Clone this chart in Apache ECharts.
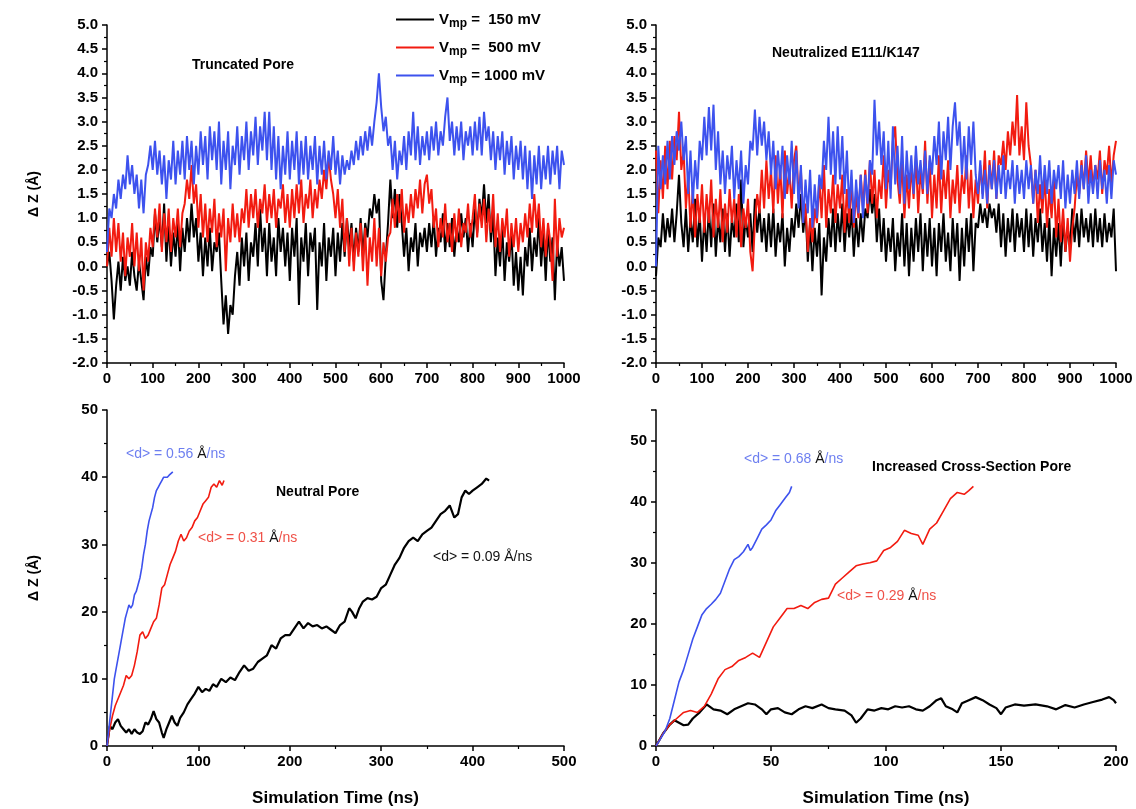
<!DOCTYPE html>
<html>
<head>
<meta charset="utf-8">
<script src="https://cdn.jsdelivr.net/npm/echarts@6/dist/echarts.min.js"></script>
<style>
  html, body { margin: 0; padding: 0; background: #fff; }
  #chart { width: 1136px; height: 809px; }
</style>
</head>
<body>
<div id="chart"></div>
<script>
// series names (legend)
var names = ["Vmp =  150 mV", "Vmp =  500 mV", "Vmp = 1000 mV"];
var colors = ["#000000", "#f21b10", "#3d52ee"];

// top panels: dZ sampled every 5 ns, 0..1000 ns
var truncBlack = [
  0.0, 0.3, -0.3, -1.1, -0.4, 0.1, -0.5, 0.2, -0.3, 0.0,
  -0.4, 0.3, -0.2, -0.5, 0.1, -0.3, -0.7, 0.2, -0.2, 0.4,
  0.2, 1.1, 0.5, 1.0, 0.4, 1.3, 0.1, 0.9, 0.0, 0.7,
  0.2, 0.9, -0.1, 0.8, 0.3, 1.0, 0.5, 1.3, 0.6, 1.0,
  0.1, 0.7, -0.2, 0.6, 0.0, 0.8, -0.1, 0.5, 0.3, 0.7,
  -0.3, -1.2, -0.6, -1.4, -0.8, -1.0, -0.2, 0.3, -0.4, 0.6,
  0.0, 0.7, -0.3, 0.5, 0.2, 0.9, 0.0, 1.2, 0.3, 0.8,
  -0.2, 0.9, 0.1, 0.6, -0.2, 1.0, 0.3, 0.8, 0.0, 0.7,
  -0.3, 0.8, 0.2, 1.0, -0.8, 0.6, 0.1, 0.9, -0.2, 0.7,
  0.3, 0.8, -0.9, 0.5, 0.0, 0.9, -0.3, 0.6, 0.2, 0.8,
  -0.2, 0.7, 0.1, 0.9, 0.2, 1.0, 0.4, 0.9, 0.1, 0.8,
  0.3, 1.0, 0.2, 0.9, 0.6, 1.2, 1.0, 1.5, 1.1, 1.4,
  -0.3, -0.7, 0.2, 0.9, 1.8, 1.0, 1.6, 0.8, 1.5, 0.9,
  0.2, 0.8, -0.1, 0.6, 0.3, 0.9, 0.0, 0.7, 0.4, 0.8,
  0.3, 0.9, 0.4, 1.0, 0.2, 0.8, 0.5, 1.1, 0.3, 0.9,
  0.4, 1.0, 0.2, 0.8, 0.5, 1.1, 0.6, 1.0, 0.3, 0.9,
  0.4, 1.2, 0.7, 1.4, 1.0, 1.7, 0.9, 1.5, 0.5, 1.1,
  -0.2, 0.6, 0.0, 0.8, -0.3, 0.5, 0.1, 0.7, -0.4, 0.3,
  -0.5, 0.2, -0.6, 0.4, 0.0, 0.8, -0.1, 0.6, 0.2, 1.0,
  0.0, 0.7, -0.3, 0.8, 0.1, 0.6, -0.7, 0.5, 0.0, 0.4,
  -0.3
];
var truncRed = [
  0.0, 0.8, 0.2, 1.0, 0.3, 0.9, 0.1, 0.7, -0.2, 0.6,
  0.2, 0.9, 0.0, 0.7, -0.1, 0.6, -0.5, 0.5, 0.1, 0.8,
  0.4, 1.2, 0.6, 1.3, 0.3, 1.1, 0.5, 1.2, 0.3, 1.0,
  0.6, 1.2, 0.4, 1.1, 1.3, 1.8, 1.4, 2.1, 1.3, 1.7,
  0.8, 1.5, 0.6, 1.3, 0.5, 1.2, 0.7, 1.4, 0.4, 1.1,
  0.6, 1.2, -0.1, 1.0, 0.5, 1.3, 0.6, 1.1, 0.5, 1.2,
  0.9, 1.6, 0.8, 1.5, 1.0, 1.6, 0.8, 1.4, 1.1, 1.7,
  0.9, 1.5, 1.0, 1.6, 0.8, 1.4, 1.2, 1.7, 0.9, 1.5,
  0.8, 1.6, 1.0, 1.7, 1.1, 1.8, 0.9, 1.5, 1.2, 1.8,
  1.0, 1.6, 1.2, 1.8, 1.4, 2.0, 1.6, 2.3, 1.8, 1.5,
  1.0, 1.6, 0.8, 1.4, 0.3, 1.0, 0.0, 0.8, -0.1, 0.7,
  0.2, 0.9, -0.1, 0.8, -0.4, 0.6, 0.1, 1.0, 0.0, 0.8,
  -0.2, 0.5, 0.1, 0.6, 0.7, 1.4, 0.8, 1.5, 0.9, 1.6,
  0.7, 1.3, 0.9, 1.5, 1.0, 1.6, 1.2, 1.8, 1.1, 1.7,
  1.9, 1.3, 1.6, 0.8, 1.2, 0.4, 1.0, 0.6, 1.3, 0.5,
  0.9, 0.3, 1.1, 0.5, 1.2, 0.4, 0.9, 0.7, 1.3, 0.6,
  1.0, 1.5, 0.6, 1.3, 0.8, 1.4, 0.5, 1.2, 0.7, 1.5,
  0.4, 1.1, 0.3, 1.0, 0.6, 1.2, 0.2, 0.9, 0.4, 1.0,
  0.3, 0.9, 0.5, 1.1, 0.6, 1.3, 0.7, 1.5, 0.8, 1.3,
  0.4, 1.0, 0.2, 0.9, 0.5, -0.3, 1.4, 0.2, 1.0, 0.6,
  0.8
];
var truncBlue = [
  0.3, 1.2, 1.0, 1.5, 1.2, 1.8, 1.4, 1.9, 1.6, 2.3,
  1.7, 2.1, 1.5, 1.9, 1.2, 1.8, 1.1, 1.9, 2.1, 2.5,
  2.0, 2.6, 1.9, 2.4, 1.7, 2.3, 1.4, 2.2, 1.8, 2.6,
  1.7, 2.4, 1.9, 2.6, 1.8, 2.7, 2.0, 2.6, 1.7, 2.5,
  1.9, 2.8, 2.1, 2.7, 1.8, 2.9, 2.2, 2.8, 2.0, 3.0,
  1.7, 2.6, 2.0, 2.8, 1.6, 2.5, 2.1, 2.9, 1.9, 2.7,
  2.2, 3.0, 2.0, 2.8, 2.3, 3.1, 2.1, 2.9, 2.4, 3.2,
  2.2, 3.2, 2.0, 2.9, 1.8, 2.7, 1.6, 2.5, 1.9, 2.8,
  1.8, 2.6, 2.0, 2.8, 1.7, 2.6, 1.9, 2.7, 1.8, 2.5,
  2.0, 2.7, 1.7, 2.5, 1.9, 2.6, 1.8, 2.4, 2.0, 2.7,
  1.9, 2.4, 1.7, 2.3, 1.9, 2.2, 2.0, 2.4, 2.1, 2.6,
  2.2, 2.7, 2.3, 2.8, 2.4, 2.9, 2.5, 3.0, 3.4, 4.0,
  3.3, 2.8, 3.1, 2.5, 2.7, 2.0, 2.6, 1.8, 2.4, 2.1,
  2.7, 2.0, 2.8, 2.3, 3.2, 2.2, 2.9, 2.1, 2.7, 2.3,
  2.8, 2.2, 2.9, 2.4, 3.0, 2.3, 2.8, 2.5, 3.1, 3.5,
  2.6, 3.0, 2.3, 2.9, 2.4, 3.0, 2.2, 2.8, 2.5, 2.9,
  2.3, 3.0, 2.4, 3.1, 2.3, 3.2, 2.6, 2.9, 2.2, 2.8,
  2.0, 2.7, 2.2, 2.8, 1.9, 2.6, 2.1, 2.7, 1.8, 2.5,
  2.0, 2.6, 1.8, 2.5, 1.6, 2.4, 1.4, 2.3, 1.7, 2.5,
  1.6, 2.3, 1.8, 2.5, 1.7, 2.4, 1.9, 2.5, 1.6, 2.4,
  2.1
];
var neutBlack = [
  -0.2, 0.6, 0.4, 1.1, 0.5, 1.0, 0.6, 1.2, 0.5, 1.1,
  1.9, 0.9, 0.4, 1.2, 0.3, 1.0, 0.5, 1.4, 0.4, 1.1,
  0.1, 1.0, 0.3, 1.2, 0.4, 1.3, 0.2, 1.0, 0.5, 1.2,
  0.3, 1.1, 0.2, 1.0, 0.6, 1.3, 0.5, 1.8, 0.4, 1.0,
  0.6, 1.1, 0.3, 1.4, 0.7, 1.2, 0.5, 1.0, 0.3, 1.1,
  0.4, 1.2, 0.2, 0.9, 0.5, 1.1, 0.0, 0.8, 0.3, 1.0,
  0.6, 1.3, 0.8, 1.5, 0.7, 1.2, 0.1, 0.9, -0.1, 0.8,
  0.2, 0.9, -0.6, 0.6, 0.1, 1.0, 0.4, 1.2, 0.3, 1.1,
  0.5, 1.3, 0.3, 1.1, 0.6, 1.2, 0.2, 1.0, 0.4, 1.1,
  0.5, 1.2, 1.0, 1.6, 1.1, 1.5, 0.5, 1.2, 0.3, 1.0,
  0.1, 0.8, 0.3, 1.0, -0.1, 0.7, 0.2, 1.1, 0.0, 0.9,
  -0.2, 0.8, 0.1, 1.0, 0.3, 1.1, -0.1, 0.9, 0.2, 1.0,
  0.0, 0.8, -0.2, 0.9, 0.3, 1.1, 0.1, 0.7, -0.1, 1.0,
  0.2, 0.9, -0.3, 0.8, 0.0, 1.0, 0.3, 1.1, -0.1, 0.9,
  0.8, 1.3, 0.9, 1.2, 0.8, 1.3, 1.0, 1.2, 0.7, 1.3,
  0.4, 1.1, 0.2, 1.0, 0.5, 1.2, 0.3, 1.1, 0.6, 1.0,
  0.3, 1.2, 0.4, 1.1, 0.2, 1.0, 0.5, 1.2, 0.3, 0.9,
  0.1, 1.0, -0.2, 0.8, 0.2, 0.9, 0.0, 1.0, 0.3, 0.8,
  0.4, 1.2, 0.5, 1.1, 0.4, 1.2, 0.6, 1.0, 0.5, 1.1,
  0.4, 1.2, 0.5, 1.0, 0.4, 1.1, 0.5, 0.9, 0.6, 1.2,
  -0.1
];
var neutRed = [
  2.4, 1.1, 2.2, 1.4, 2.5, 1.6, 2.6, 1.8, 2.7, 2.2,
  3.2, 2.0, 2.4, 1.2, 1.9, 0.8, 1.6, 0.6, 1.5, 0.9,
  1.7, 0.7, 1.5, 0.9, 1.8, 0.6, 1.4, 0.8, 1.6, 0.5,
  1.3, 0.7, 1.6, 0.9, 1.4, 0.6, 1.5, 0.4, 1.2, 0.8,
  1.4, 0.3, -0.1, 0.9, 1.5, 1.1, 2.0, 1.2, 2.2, 1.4,
  2.0, 1.1, 2.3, 1.3, 2.1, 1.0, 2.4, 1.5, 2.0, 1.2,
  2.2, 2.5, 1.4, 2.0, 0.9, 1.3, 0.3, 1.0, 0.5, 1.2,
  0.9, 1.8, 1.0, 2.1, 0.8, 1.6, 1.1, 1.9, 0.9, 1.7,
  1.2, 1.9, 0.7, 1.6, 0.9, 1.8, 0.8, 1.5, 1.0, 1.9,
  1.2, 2.0, 1.1, 2.2, 1.3, 2.0, 1.0, 1.8, 1.4, 2.3,
  1.2, 2.0, 1.6, 2.6, 2.9, 1.8, 1.3, 2.2, 1.0, 1.9,
  1.2, 2.1, 1.4, 2.3, 1.1, 2.0, 1.5, 2.6, 1.3, 2.2,
  1.0, 1.9, 1.2, 2.3, 1.1, 2.0, 1.4, 2.2, 1.0, 1.8,
  1.3, 2.1, 1.1, 1.9, 1.5, 2.3, 1.2, 2.0, 1.0, 1.8,
  1.3, 2.1, 1.5, 2.4, 1.2, 2.2, 1.6, 2.4, 1.4, 2.3,
  2.1, 2.6, 2.0, 2.8, 2.3, 3.0, 2.5, 3.55, 2.3, 2.9,
  2.2, 3.4, 2.5, 2.1, 1.3, 2.0, 0.9, 1.7, 1.1, 1.9,
  0.8, 1.6, 1.0, 1.8, 0.6, 1.4, 0.5, 1.2, 0.3, 1.0,
  0.1, 0.8, 1.2, 1.9, 1.5, 2.2, 1.6, 2.4, 1.7, 2.3,
  1.6, 2.1, 1.8, 2.4, 1.5, 2.2, 1.9, 2.5, 1.7, 2.3,
  2.6
];
var neutBlue = [
  0.0, 2.5, 1.6, 2.3, 1.7, 2.6, 1.8, 2.7, 2.1, 2.8,
  2.4, 3.0, 2.2, 2.7, 1.5, 2.4, 1.3, 2.2, 1.6, 2.6,
  2.2, 3.1, 2.3, 3.3, 2.4, 3.35, 2.0, 2.8, 1.7, 2.4,
  1.5, 2.3, 1.8, 2.5, 1.4, 2.2, 1.6, 2.4, 1.3, 2.1,
  1.7, 2.6, 2.4, 3.25, 2.3, 3.1, 2.5, 3.0, 2.2, 2.8,
  1.9, 2.6, 1.6, 2.4, 1.8, 2.5, 1.4, 2.3, 1.7, 2.6,
  1.5, 2.4, 1.2, 2.1, 0.9, 1.8, 1.1, 2.0, 0.8, 1.7,
  1.0, 1.9, 1.6, 2.6, 2.0, 3.1, 1.9, 2.8, 1.7, 2.9,
  1.8, 2.7, 1.5, 2.4, 1.2, 2.0, 0.9, 1.8, 1.1, 1.9,
  1.0, 1.9, 1.3, 2.2, 1.9, 3.45, 2.3, 3.0, 2.1, 2.8,
  1.6, 2.6, 1.4, 2.9, 1.7, 2.5, 1.5, 2.7, 1.3, 2.4,
  1.6, 2.3, 1.5, 2.5, 1.7, 2.2, 1.6, 2.4, 1.5, 2.3,
  1.9, 2.7, 2.1, 3.0, 1.8, 2.8, 2.2, 3.1, 2.0, 2.9,
  3.4, 2.5, 3.0, 1.9, 2.7, 1.8, 2.9, 2.1, 3.0, 1.9,
  1.5, 2.2, 1.4, 2.0, 1.3, 2.1, 1.6, 2.2, 1.4, 2.1,
  1.5, 2.3, 1.4, 2.0, 1.6, 2.2, 1.3, 2.1, 1.5, 2.0,
  1.4, 2.2, 1.6, 2.1, 1.3, 2.0, 1.5, 2.3, 1.4, 2.1,
  1.5, 2.2, 1.3, 2.0, 1.6, 2.1, 1.4, 2.2, 1.2, 1.9,
  1.3, 2.0, 1.5, 2.2, 1.4, 2.1, 1.6, 2.3, 1.3, 2.0,
  1.5, 2.1, 1.4, 2.2, 1.6, 2.0, 1.3, 2.1, 1.4, 2.2,
  1.9
];

// bottom panels: [time ns, dZ]
var poreBlue = [[0,0],[2,2.5],[4,5],[6,7.5],[8,10],[10,11.5],[12,13],[14,14.5],[16,16],[18,17.5],[20,19],[22,20],[24,21],[26,20.5],[28,21],[30,22.5],[32,23],[34,24],[36,25],[38,26.5],[40,28.5],[42,30],[44,32],[46,33.5],[48,34.5],[50,35.5],[52,37],[54,38],[56,38.5],[58,39],[60,39.5],[62,40],[64,39.8],[66,40],[68,40.3],[70,40.2],[72,40.8]];
var poreRed = [[0,0],[3,2.5],[6,4.5],[9,6],[12,7],[15,8],[18,9],[21,10.5],[24,10],[27,10.5],[30,12],[33,14],[36,16.5],[39,17],[42,16],[45,16.5],[48,17.5],[51,18.5],[54,19],[57,21],[60,23.5],[63,24],[66,25.5],[69,27],[72,28],[75,29],[78,30.5],[81,31.5],[84,30.5],[87,31],[90,32],[93,32.5],[96,33.5],[99,34],[102,35],[105,36],[108,36.5],[111,37],[114,38.5],[117,39],[120,38.5],[123,39.5],[126,38.8],[128,39.5]];
var poreBlack = [[0,0],[3,3],[6,2.5],[9,3.5],[12,4],[15,3],[18,2.5],[21,2],[24,2.5],[27,1.8],[30,2.5],[33,2],[36,1.8],[39,2.2],[42,3.5],[45,3.2],[48,4],[51,5.2],[54,4],[57,3.5],[60,2],[62,1.2],[65,2.5],[68,3.5],[71,4.5],[74,3.5],[77,3],[80,4.2],[84,5],[88,6.2],[92,7],[96,7.8],[100,8.8],[104,8],[108,8.5],[112,8.2],[116,9.2],[120,8.8],[125,10],[130,9.5],[135,10.2],[140,9.8],[145,11],[150,12],[155,11.2],[160,11.5],[165,12.5],[170,13],[175,13.5],[180,15],[185,14.5],[190,16],[195,16.5],[200,16.5],[205,17.5],[210,18.5],[215,17.5],[220,18.3],[225,17.8],[230,18],[235,17.5],[240,17.8],[245,17.3],[250,16.8],[255,18],[260,18.5],[265,20.5],[268,20],[272,19],[276,20.5],[280,21.5],[285,22],[290,21.8],[295,22.2],[300,23.5],[305,24],[310,25.5],[315,27],[320,28],[325,29.5],[330,30.5],[335,31],[340,30.5],[345,31.5],[350,32],[355,32.5],[360,33.5],[365,34.5],[370,35],[375,35.8],[380,34],[384,34.5],[388,37],[392,38],[396,37.5],[400,38],[405,38.5],[410,39],[415,39.8],[418,39.5]];

var crossBlue = [[0,0],[2,1.2],[4,2.5],[6,4.5],[8,7.5],[10,10.5],[12,12.5],[14,15],[16,17.5],[18,19.5],[20,21.5],[22,22.5],[24,23.2],[26,24],[28,25],[30,27],[32,29],[34,30.5],[36,31],[38,31.8],[40,33],[41,32],[42,32.5],[44,34],[46,35.5],[48,36.2],[50,37],[52,38.5],[54,39.5],[56,40.5],[58,41.5],[59,42.5]];
var crossRed = [[0,0],[3,2],[6,3.5],[9,4.5],[12,5.5],[15,5.8],[18,5.5],[21,6.5],[24,8.5],[27,11],[30,12.5],[33,13],[36,14],[39,14.5],[42,15.2],[45,14.5],[48,17],[51,19.5],[54,21],[57,22.5],[60,22.5],[63,23],[66,22.5],[69,23.5],[72,24],[75,24.2],[78,26.5],[81,27.5],[84,28.5],[87,29.5],[90,29.8],[93,30],[96,30.3],[99,32],[102,32.5],[105,33.5],[108,35.3],[111,34.8],[114,34.5],[116,33],[119,35.5],[122,36.5],[125,38.5],[128,40.5],[131,41.5],[134,41.2],[136,41.8],[138,42.5]];
var crossBlack = [[0,0],[3,2],[6,3.5],[8,4.2],[10,3.8],[12,3.4],[14,3.5],[16,4.5],[19,5.5],[22,6.8],[25,6],[28,5.8],[31,5.2],[34,6],[37,6.5],[40,7],[43,6.8],[46,6],[48,5.2],[50,6],[53,6.2],[56,5.5],[59,5.2],[62,6],[65,6.5],[68,6.2],[72,6.8],[75,6.2],[78,6],[82,5.8],[85,5],[87,3.8],[89,4.5],[92,6],[95,5.8],[98,6.2],[101,6],[104,6.5],[107,6.3],[110,6.5],[113,6],[116,5.8],[119,6.5],[122,7.5],[124,7.8],[126,6.5],[129,6],[131,5.5],[133,7],[136,7.5],[139,8],[142,7.5],[145,6.8],[148,6.2],[150,5.2],[152,6.3],[156,6.8],[160,6.6],[165,6.8],[170,6.5],[174,6],[178,6.7],[182,6.3],[186,6.8],[190,7.2],[194,7.6],[197,8],[199,7.5],[200,7]];

var FONT = '"Liberation Sans", Arial, sans-serif';

function withTime(vals) {
  return vals.map(function (v, i) { return [i * 5, v]; });
}

function xAx(idx, max, interval, name) {
  return {
    gridIndex: idx, type: "value", min: 0, max: max, interval: interval,
    name: name || "", nameLocation: "middle", nameGap: 44,
    nameTextStyle: { fontFamily: FONT, fontWeight: "bold", fontSize: 17, color: "#000" },
    axisLine: { show: true, onZero: false, lineStyle: { color: "#000", width: 1.5 } },
    axisTick: { show: true, length: 5, lineStyle: { color: "#000", width: 1.5 } },
    minorTick: { show: true, splitNumber: 2, length: 3, lineStyle: { color: "#000", width: 1.2 } },
    splitLine: { show: false },
    axisLabel: {
      fontFamily: FONT, fontWeight: "bold", fontSize: 15, color: "#000", margin: 8,
      formatter: function (v) { return String(v); }
    }
  };
}

function yAx(idx, min, max, interval, digits, name) {
  return {
    gridIndex: idx, type: "value", min: min, max: max, interval: interval,
    name: name || "", nameLocation: "middle", nameGap: 66, nameRotate: 90,
    nameTextStyle: { fontFamily: FONT, fontWeight: "bold", fontSize: 14, color: "#000" },
    axisLine: { show: true, onZero: false, lineStyle: { color: "#000", width: 1.5 } },
    axisTick: { show: true, length: 5, lineStyle: { color: "#000", width: 1.5 } },
    minorTick: { show: true, splitNumber: 2, length: 3, lineStyle: { color: "#000", width: 1.2 } },
    splitLine: { show: false },
    axisLabel: {
      fontFamily: FONT, fontWeight: "bold", fontSize: 15, color: "#000", margin: 9,
      showMaxLabel: max === 55 ? false : null,
      formatter: function (v) { return v.toFixed(digits); }
    }
  };
}

function line(name, color, data, xi, width) {
  return {
    name: name, type: "line", xAxisIndex: xi, yAxisIndex: xi, data: data,
    symbol: "none", smooth: false, animation: false,
    lineStyle: { color: color, width: width }, itemStyle: { color: color }
  };
}

function note(left, top, text, color, bold) {
  return {
    type: "text", left: left, top: top, z: 100,
    style: {
      text: text, fill: color,
      font: (bold ? "bold " : "") + "14px " + FONT
    }
  };
}

function rate(left, top, val, color) {
  return {
    type: "text", left: left, top: top, z: 100,
    style: {
      text: "{c|<d> = " + val + " }{k|Å}{c|/ns}",
      font: "14px " + FONT,
      rich: {
        c: { fill: color, color: color, fontSize: 14, fontFamily: FONT },
        k: { fill: "#111", color: "#111", fontSize: 14, fontFamily: FONT }
      }
    }
  };
}

var myChart = echarts.init(document.getElementById("chart"), null, { renderer: "canvas" });

var option = {
  backgroundColor: "#fff",
  animation: false,
  grid: [
    { left: 107, top: 25, width: 457, height: 338 },
    { left: 656, top: 25, width: 460, height: 338 },
    { left: 107, top: 410, width: 457, height: 336 },
    { left: 656, top: 410, width: 460, height: 336 }
  ],
  legend: {
    data: names, orient: "vertical", left: 396, top: 9, padding: 0,
    icon: "rect", itemWidth: 38, itemHeight: 2, itemGap: 7,
    formatter: function (name) {
      return "{v|V}{s|mp}{v|" + name.replace("Vmp", "") + "}";
    },
    textStyle: {
      rich: {
        v: { fontFamily: FONT, fontWeight: "bold", fontSize: 15, color: "#000", lineHeight: 19 },
        s: { fontFamily: FONT, fontWeight: "bold", fontSize: 12, color: "#000", padding: [9, 0, 0, 0], lineHeight: 19 }
      }
    }
  },
  xAxis: [
    xAx(0, 1000, 100),
    xAx(1, 1000, 100),
    xAx(2, 500, 100, "Simulation Time (ns)"),
    xAx(3, 200, 50, "Simulation Time (ns)")
  ],
  yAxis: [
    yAx(0, -2, 5, 0.5, 1, "Δ Z (Å)"),
    yAx(1, -2, 5, 0.5, 1),
    yAx(2, 0, 50, 10, 0, "Δ Z (Å)"),
    yAx(3, 0, 55, 10, 0)
  ],
  series: [
    line(names[0], colors[0], withTime(truncBlack), 0, 2),
    line(names[1], colors[1], withTime(truncRed), 0, 2),
    line(names[2], colors[2], withTime(truncBlue), 0, 2),
    line(names[0], colors[0], withTime(neutBlack), 1, 2),
    line(names[1], colors[1], withTime(neutRed), 1, 2),
    line(names[2], colors[2], withTime(neutBlue), 1, 2),
    line(names[0], colors[0], poreBlack, 2, 2.2),
    line(names[1], colors[1], poreRed, 2, 1.6),
    line(names[2], colors[2], poreBlue, 2, 1.6),
    line(names[0], colors[0], crossBlack, 3, 2.2),
    line(names[1], colors[1], crossRed, 3, 1.6),
    line(names[2], colors[2], crossBlue, 3, 1.6)
  ],
  graphic: [
    note(192, 58, "Truncated Pore", "#000", true),
    note(772, 46, "Neutralized E111/K147", "#000", true),
    note(276, 485, "Neutral Pore", "#000", true),
    note(872, 460, "Increased Cross-Section Pore", "#000", true),
    rate(126, 447, "0.56", "#6d7ff0"),
    rate(198, 531, "0.31", "#ef5047"),
    rate(433, 550, "0.09", "#111"),
    rate(744, 452, "0.68", "#6d7ff0"),
    rate(837, 589, "0.29", "#ef5047")
  ]
};

myChart.setOption(option);
</script>
</body>
</html>
